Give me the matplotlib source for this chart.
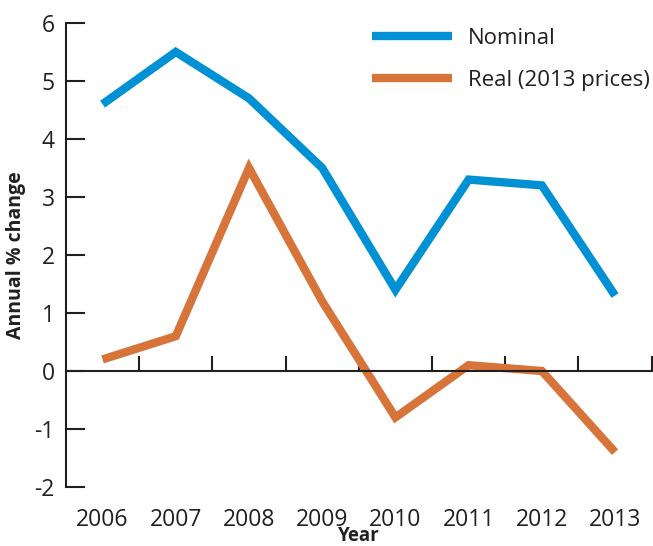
import matplotlib
matplotlib.use("Agg")
import matplotlib.pyplot as plt

# data
years = ["2006", "2007", "2008", "2009", "2010", "2011", "2012", "2013"]
nominal = [4.6, 5.5, 4.7, 3.5, 1.4, 3.3, 3.2, 1.3]
real = [0.2, 0.6, 3.5, 1.2, -0.8, 0.1, 0.0, -1.4]

blue = "#0091D5"
orange = "#D6743A"
ink = "#231F20"

plt.rcParams["font.family"] = ["Open Sans", "DejaVu Sans"]
plt.rcParams["axes.unicode_minus"] = False

fig = plt.figure(figsize=(6.53, 5.46), dpi=100)
ax = fig.add_axes([0.101, 0.108, 0.897, 0.85])

x = list(range(len(years)))
ax.plot(x, nominal, color=blue, lw=6, solid_capstyle="butt", solid_joinstyle="miter", label="Nominal")
ax.plot(x, real, color=orange, lw=6, solid_capstyle="butt", solid_joinstyle="miter", label="Real (2013 prices)")

ax.set_xlim(-0.5, len(years) - 0.5)
ax.set_ylim(-2, 6)

# zero line carries the category boundary ticks
for s in ["top", "right"]:
    ax.spines[s].set_visible(False)
ax.spines["bottom"].set_position(("data", 0))
ax.spines["bottom"].set_color(ink)
ax.spines["left"].set_color(ink)
ax.spines["bottom"].set_linewidth(1.5)
ax.spines["left"].set_linewidth(1.5)
ax.set_xticks([i + 0.5 for i in x])
ax.tick_params(axis="x", direction="in", length=11, width=1.5, color=ink, labelbottom=False)
ax.set_yticks(range(-2, 7))
ax.tick_params(axis="y", direction="in", length=14, width=1.5, color=ink, labelsize=16.5, labelcolor=ink, pad=8)

# year labels below the plot
sec = ax.secondary_xaxis(0.0)
sec.spines["bottom"].set_visible(False)
sec.set_xticks(x)
sec.set_xticklabels(years)
sec.tick_params(length=0, labelsize=16.5, labelcolor=ink, pad=15)
sec.set_xlabel("Year", fontsize=13.5, fontweight="bold", color=ink, labelpad=-4)

ax.set_ylabel("Annual % change", fontsize=14, fontweight="bold", color=ink, labelpad=6)

ax.legend(loc="upper right", bbox_to_anchor=(1.012, 1.008), frameon=False, fontsize=16,
          handlelength=3.6, handletextpad=0.7, labelspacing=0.95, labelcolor=ink,
          borderaxespad=0.0)

fig.savefig("out.png", dpi=100)
